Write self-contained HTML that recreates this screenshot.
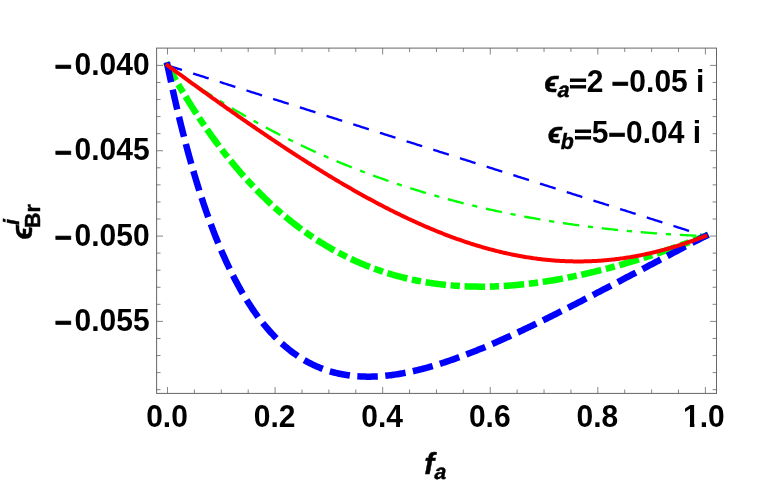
<!DOCTYPE html>
<html><head><meta charset="utf-8"><title>plot</title><style>
html,body{margin:0;padding:0;background:#fff}
body{width:763px;height:481px;overflow:hidden;font-family:"Liberation Sans",sans-serif}
svg{display:block;will-change:transform}
</style></head><body>
<svg width="763" height="481" viewBox="0 0 763 481">
<rect width="763" height="481" fill="#fff"/>
<g fill="none" stroke-linecap="square" stroke-linejoin="round">
<path d="M167.52 65.40 L168.86 65.83 L170.21 66.25 L171.55 66.68 L172.90 67.11 L174.24 67.53 L175.59 67.96 L176.93 68.39 L178.28 68.81 L179.62 69.24 L180.97 69.67 L182.31 70.09 L183.66 70.52 L185.00 70.95 L186.35 71.37 L187.69 71.80 L189.04 72.23 L190.38 72.65 L191.72 73.08 L193.07 73.51 L194.41 73.93 L195.76 74.36 L197.10 74.79 L198.45 75.21 L199.79 75.64 L201.14 76.07 L202.48 76.49 L203.83 76.92 L205.17 77.35 L206.52 77.77 L207.86 78.20 L209.21 78.63 L210.55 79.05 L211.90 79.48 L213.24 79.91 L214.58 80.33 L215.93 80.76 L217.27 81.19 L218.62 81.61 L219.96 82.04 L221.31 82.47 L222.65 82.89 L224.00 83.32 L225.34 83.75 L226.69 84.17 L228.03 84.60 L229.38 85.03 L230.72 85.45 L232.07 85.88 L233.41 86.31 L234.75 86.73 L236.10 87.16 L237.44 87.59 L238.79 88.01 L240.13 88.44 L241.48 88.87 L242.82 89.29 L244.17 89.72 L245.51 90.15 L246.86 90.57 L248.20 91.00 L249.55 91.43 L250.89 91.85 L252.24 92.28 L253.58 92.71 L254.93 93.13 L256.27 93.56 L257.61 93.99 L258.96 94.41 L260.30 94.84 L261.65 95.27 L262.99 95.69 L264.34 96.12 L265.68 96.55 L267.03 96.97 L268.37 97.40 L269.72 97.83 L271.06 98.25 L272.41 98.68 L273.75 99.11 L275.10 99.53 L276.44 99.96 L277.79 100.39 L279.13 100.81 L280.47 101.24 L281.82 101.67 L283.16 102.09 L284.51 102.52 L285.85 102.95 L287.20 103.37 L288.54 103.80 L289.89 104.23 L291.23 104.65 L292.58 105.08 L293.92 105.51 L295.27 105.93 L296.61 106.36 L297.96 106.79 L299.30 107.21 L300.65 107.64 L301.99 108.07 L303.33 108.49 L304.68 108.92 L306.02 109.35 L307.37 109.77 L308.71 110.20 L310.06 110.63 L311.40 111.05 L312.75 111.48 L314.09 111.91 L315.44 112.33 L316.78 112.76 L318.13 113.19 L319.47 113.61 L320.82 114.04 L322.16 114.47 L323.51 114.89 L324.85 115.32 L326.19 115.75 L327.54 116.17 L328.88 116.60 L330.23 117.03 L331.57 117.45 L332.92 117.88 L334.26 118.31 L335.61 118.73 L336.95 119.16 L338.30 119.59 L339.64 120.01 L340.99 120.44 L342.33 120.87 L343.68 121.29 L345.02 121.72 L346.37 122.15 L347.71 122.57 L349.05 123.00 L350.40 123.43 L351.74 123.85 L353.09 124.28 L354.43 124.71 L355.78 125.13 L357.12 125.56 L358.47 125.99 L359.81 126.41 L361.16 126.84 L362.50 127.27 L363.85 127.69 L365.19 128.12 L366.54 128.55 L367.88 128.97 L369.23 129.40 L370.57 129.83 L371.91 130.25 L373.26 130.68 L374.60 131.11 L375.95 131.53 L377.29 131.96 L378.64 132.39 L379.98 132.81 L381.33 133.24 L382.67 133.67 L384.02 134.09 L385.36 134.52 L386.71 134.95 L388.05 135.37 L389.40 135.80 L390.74 136.23 L392.08 136.65 L393.43 137.08 L394.77 137.51 L396.12 137.93 L397.46 138.36 L398.81 138.79 L400.15 139.21 L401.50 139.64 L402.84 140.07 L404.19 140.49 L405.53 140.92 L406.88 141.35 L408.22 141.77 L409.57 142.20 L410.91 142.63 L412.26 143.05 L413.60 143.48 L414.94 143.91 L416.29 144.33 L417.63 144.76 L418.98 145.19 L420.32 145.61 L421.67 146.04 L423.01 146.47 L424.36 146.89 L425.70 147.32 L427.05 147.75 L428.39 148.17 L429.74 148.60 L431.08 149.03 L432.43 149.45 L433.77 149.88 L435.12 150.31 L436.46 150.73 L437.80 151.16 L439.15 151.59 L440.49 152.02 L441.84 152.44 L443.18 152.87 L444.53 153.30 L445.87 153.72 L447.22 154.15 L448.56 154.58 L449.91 155.00 L451.25 155.43 L452.60 155.86 L453.94 156.28 L455.29 156.71 L456.63 157.14 L457.98 157.56 L459.32 157.99 L460.66 158.42 L462.01 158.84 L463.35 159.27 L464.70 159.70 L466.04 160.12 L467.39 160.55 L468.73 160.98 L470.08 161.40 L471.42 161.83 L472.77 162.26 L474.11 162.68 L475.46 163.11 L476.80 163.54 L478.15 163.96 L479.49 164.39 L480.84 164.82 L482.18 165.24 L483.52 165.67 L484.87 166.10 L486.21 166.52 L487.56 166.95 L488.90 167.38 L490.25 167.80 L491.59 168.23 L492.94 168.66 L494.28 169.08 L495.63 169.51 L496.97 169.94 L498.32 170.36 L499.66 170.79 L501.01 171.22 L502.35 171.64 L503.70 172.07 L505.04 172.50 L506.38 172.92 L507.73 173.35 L509.07 173.78 L510.42 174.20 L511.76 174.63 L513.11 175.06 L514.45 175.48 L515.80 175.91 L517.14 176.34 L518.49 176.76 L519.83 177.19 L521.18 177.62 L522.52 178.04 L523.87 178.47 L525.21 178.90 L526.55 179.32 L527.90 179.75 L529.24 180.18 L530.59 180.60 L531.93 181.03 L533.28 181.46 L534.62 181.88 L535.97 182.31 L537.31 182.74 L538.66 183.16 L540.00 183.59 L541.35 184.02 L542.69 184.44 L544.04 184.87 L545.38 185.30 L546.73 185.72 L548.07 186.15 L549.41 186.58 L550.76 187.00 L552.10 187.43 L553.45 187.86 L554.79 188.28 L556.14 188.71 L557.48 189.14 L558.83 189.56 L560.17 189.99 L561.52 190.42 L562.86 190.84 L564.21 191.27 L565.55 191.70 L566.90 192.12 L568.24 192.55 L569.59 192.98 L570.93 193.40 L572.27 193.83 L573.62 194.26 L574.96 194.68 L576.31 195.11 L577.65 195.54 L579.00 195.96 L580.34 196.39 L581.69 196.82 L583.03 197.24 L584.38 197.67 L585.72 198.10 L587.07 198.52 L588.41 198.95 L589.76 199.38 L591.10 199.80 L592.45 200.23 L593.79 200.66 L595.13 201.08 L596.48 201.51 L597.82 201.94 L599.17 202.36 L600.51 202.79 L601.86 203.22 L603.20 203.64 L604.55 204.07 L605.89 204.50 L607.24 204.92 L608.58 205.35 L609.93 205.78 L611.27 206.20 L612.62 206.63 L613.96 207.06 L615.31 207.48 L616.65 207.91 L617.99 208.34 L619.34 208.76 L620.68 209.19 L622.03 209.62 L623.37 210.04 L624.72 210.47 L626.06 210.90 L627.41 211.32 L628.75 211.75 L630.10 212.18 L631.44 212.60 L632.79 213.03 L634.13 213.46 L635.48 213.88 L636.82 214.31 L638.16 214.74 L639.51 215.16 L640.85 215.59 L642.20 216.02 L643.54 216.44 L644.89 216.87 L646.23 217.30 L647.58 217.72 L648.92 218.15 L650.27 218.58 L651.61 219.00 L652.96 219.43 L654.30 219.86 L655.65 220.28 L656.99 220.71 L658.34 221.14 L659.68 221.56 L661.02 221.99 L662.37 222.42 L663.71 222.84 L665.06 223.27 L666.40 223.70 L667.75 224.12 L669.09 224.55 L670.44 224.98 L671.78 225.40 L673.13 225.83 L674.47 226.26 L675.82 226.68 L677.16 227.11 L678.51 227.54 L679.85 227.96 L681.20 228.39 L682.54 228.82 L683.88 229.24 L685.23 229.67 L686.57 230.10 L687.92 230.52 L689.26 230.95 L690.61 231.38 L691.95 231.80 L693.30 232.23 L694.64 232.66 L695.99 233.08 L697.33 233.51 L698.68 233.94 L700.02 234.36 L701.37 234.79 L702.71 235.22 L704.06 235.64 L705.40 236.07" stroke="#0000ff" stroke-width="2.35" stroke-dasharray="14.00 14.00"/>
<path d="M167.52 65.40 L168.86 66.38 L170.21 67.37 L171.55 68.34 L172.90 69.31 L174.24 70.28 L175.59 71.25 L176.93 72.21 L178.28 73.16 L179.62 74.12 L180.97 75.06 L182.31 76.01 L183.66 76.95 L185.00 77.89 L186.35 78.82 L187.69 79.75 L189.04 80.67 L190.38 81.60 L191.72 82.51 L193.07 83.43 L194.41 84.34 L195.76 85.24 L197.10 86.14 L198.45 87.04 L199.79 87.94 L201.14 88.83 L202.48 89.71 L203.83 90.60 L205.17 91.48 L206.52 92.35 L207.86 93.23 L209.21 94.09 L210.55 94.96 L211.90 95.82 L213.24 96.68 L214.58 97.53 L215.93 98.38 L217.27 99.23 L218.62 100.07 L219.96 100.91 L221.31 101.75 L222.65 102.58 L224.00 103.41 L225.34 104.23 L226.69 105.05 L228.03 105.87 L229.38 106.68 L230.72 107.49 L232.07 108.30 L233.41 109.11 L234.75 109.91 L236.10 110.70 L237.44 111.50 L238.79 112.29 L240.13 113.07 L241.48 113.86 L242.82 114.64 L244.17 115.41 L245.51 116.18 L246.86 116.95 L248.20 117.72 L249.55 118.48 L250.89 119.24 L252.24 120.00 L253.58 120.75 L254.93 121.50 L256.27 122.25 L257.61 122.99 L258.96 123.73 L260.30 124.46 L261.65 125.20 L262.99 125.93 L264.34 126.65 L265.68 127.38 L267.03 128.10 L268.37 128.81 L269.72 129.53 L271.06 130.24 L272.41 130.94 L273.75 131.65 L275.10 132.35 L276.44 133.05 L277.79 133.74 L279.13 134.43 L280.47 135.12 L281.82 135.80 L283.16 136.49 L284.51 137.17 L285.85 137.84 L287.20 138.51 L288.54 139.18 L289.89 139.85 L291.23 140.51 L292.58 141.17 L293.92 141.83 L295.27 142.49 L296.61 143.14 L297.96 143.78 L299.30 144.43 L300.65 145.07 L301.99 145.71 L303.33 146.35 L304.68 146.98 L306.02 147.61 L307.37 148.24 L308.71 148.86 L310.06 149.48 L311.40 150.10 L312.75 150.72 L314.09 151.33 L315.44 151.94 L316.78 152.55 L318.13 153.15 L319.47 153.75 L320.82 154.35 L322.16 154.95 L323.51 155.54 L324.85 156.13 L326.19 156.72 L327.54 157.30 L328.88 157.88 L330.23 158.46 L331.57 159.04 L332.92 159.61 L334.26 160.18 L335.61 160.75 L336.95 161.31 L338.30 161.88 L339.64 162.44 L340.99 162.99 L342.33 163.55 L343.68 164.10 L345.02 164.65 L346.37 165.19 L347.71 165.74 L349.05 166.28 L350.40 166.81 L351.74 167.35 L353.09 167.88 L354.43 168.41 L355.78 168.94 L357.12 169.46 L358.47 169.99 L359.81 170.50 L361.16 171.02 L362.50 171.54 L363.85 172.05 L365.19 172.56 L366.54 173.06 L367.88 173.57 L369.23 174.07 L370.57 174.57 L371.91 175.06 L373.26 175.56 L374.60 176.05 L375.95 176.54 L377.29 177.02 L378.64 177.50 L379.98 177.99 L381.33 178.46 L382.67 178.94 L384.02 179.41 L385.36 179.89 L386.71 180.35 L388.05 180.82 L389.40 181.28 L390.74 181.75 L392.08 182.20 L393.43 182.66 L394.77 183.11 L396.12 183.57 L397.46 184.02 L398.81 184.46 L400.15 184.91 L401.50 185.35 L402.84 185.79 L404.19 186.23 L405.53 186.66 L406.88 187.09 L408.22 187.52 L409.57 187.95 L410.91 188.38 L412.26 188.80 L413.60 189.22 L414.94 189.64 L416.29 190.06 L417.63 190.47 L418.98 190.88 L420.32 191.29 L421.67 191.70 L423.01 192.11 L424.36 192.51 L425.70 192.91 L427.05 193.31 L428.39 193.70 L429.74 194.10 L431.08 194.49 L432.43 194.88 L433.77 195.26 L435.12 195.65 L436.46 196.03 L437.80 196.41 L439.15 196.79 L440.49 197.17 L441.84 197.54 L443.18 197.91 L444.53 198.28 L445.87 198.65 L447.22 199.02 L448.56 199.38 L449.91 199.74 L451.25 200.10 L452.60 200.46 L453.94 200.81 L455.29 201.16 L456.63 201.51 L457.98 201.86 L459.32 202.21 L460.66 202.55 L462.01 202.89 L463.35 203.23 L464.70 203.57 L466.04 203.91 L467.39 204.24 L468.73 204.57 L470.08 204.90 L471.42 205.23 L472.77 205.56 L474.11 205.88 L475.46 206.20 L476.80 206.52 L478.15 206.84 L479.49 207.16 L480.84 207.47 L482.18 207.78 L483.52 208.09 L484.87 208.40 L486.21 208.71 L487.56 209.01 L488.90 209.31 L490.25 209.61 L491.59 209.91 L492.94 210.20 L494.28 210.50 L495.63 210.79 L496.97 211.08 L498.32 211.37 L499.66 211.66 L501.01 211.94 L502.35 212.22 L503.70 212.50 L505.04 212.78 L506.38 213.06 L507.73 213.34 L509.07 213.61 L510.42 213.88 L511.76 214.15 L513.11 214.42 L514.45 214.68 L515.80 214.95 L517.14 215.21 L518.49 215.47 L519.83 215.73 L521.18 215.98 L522.52 216.24 L523.87 216.49 L525.21 216.74 L526.55 216.99 L527.90 217.24 L529.24 217.49 L530.59 217.73 L531.93 217.97 L533.28 218.21 L534.62 218.45 L535.97 218.69 L537.31 218.92 L538.66 219.16 L540.00 219.39 L541.35 219.62 L542.69 219.85 L544.04 220.07 L545.38 220.30 L546.73 220.52 L548.07 220.74 L549.41 220.96 L550.76 221.18 L552.10 221.40 L553.45 221.61 L554.79 221.82 L556.14 222.04 L557.48 222.24 L558.83 222.45 L560.17 222.66 L561.52 222.86 L562.86 223.07 L564.21 223.27 L565.55 223.47 L566.90 223.66 L568.24 223.86 L569.59 224.06 L570.93 224.25 L572.27 224.44 L573.62 224.63 L574.96 224.82 L576.31 225.00 L577.65 225.19 L579.00 225.37 L580.34 225.55 L581.69 225.73 L583.03 225.91 L584.38 226.09 L585.72 226.26 L587.07 226.44 L588.41 226.61 L589.76 226.78 L591.10 226.95 L592.45 227.12 L593.79 227.28 L595.13 227.45 L596.48 227.61 L597.82 227.77 L599.17 227.93 L600.51 228.09 L601.86 228.25 L603.20 228.40 L604.55 228.56 L605.89 228.71 L607.24 228.86 L608.58 229.01 L609.93 229.15 L611.27 229.30 L612.62 229.45 L613.96 229.59 L615.31 229.73 L616.65 229.87 L617.99 230.01 L619.34 230.15 L620.68 230.28 L622.03 230.42 L623.37 230.55 L624.72 230.68 L626.06 230.81 L627.41 230.94 L628.75 231.07 L630.10 231.19 L631.44 231.32 L632.79 231.44 L634.13 231.56 L635.48 231.68 L636.82 231.80 L638.16 231.92 L639.51 232.03 L640.85 232.15 L642.20 232.26 L643.54 232.37 L644.89 232.48 L646.23 232.59 L647.58 232.70 L648.92 232.80 L650.27 232.91 L651.61 233.01 L652.96 233.11 L654.30 233.22 L655.65 233.31 L656.99 233.41 L658.34 233.51 L659.68 233.60 L661.02 233.70 L662.37 233.79 L663.71 233.88 L665.06 233.97 L666.40 234.06 L667.75 234.15 L669.09 234.23 L670.44 234.32 L671.78 234.40 L673.13 234.48 L674.47 234.56 L675.82 234.64 L677.16 234.72 L678.51 234.80 L679.85 234.87 L681.20 234.95 L682.54 235.02 L683.88 235.09 L685.23 235.16 L686.57 235.23 L687.92 235.30 L689.26 235.37 L690.61 235.43 L691.95 235.50 L693.30 235.56 L694.64 235.62 L695.99 235.68 L697.33 235.74 L698.68 235.80 L700.02 235.86 L701.37 235.91 L702.71 235.97 L704.06 236.02 L705.40 236.07" stroke="#00ff00" stroke-width="2.35" stroke-dasharray="14.00 11.20 2.80 11.20"/>
<path d="M167.52 65.40 L168.86 67.84 L170.21 70.26 L171.55 72.67 L172.90 75.05 L174.24 77.42 L175.59 79.76 L176.93 82.09 L178.28 84.40 L179.62 86.69 L180.97 88.96 L182.31 91.21 L183.66 93.44 L185.00 95.66 L186.35 97.85 L187.69 100.03 L189.04 102.19 L190.38 104.34 L191.72 106.46 L193.07 108.57 L194.41 110.66 L195.76 112.73 L197.10 114.79 L198.45 116.83 L199.79 118.85 L201.14 120.85 L202.48 122.84 L203.83 124.81 L205.17 126.77 L206.52 128.70 L207.86 130.62 L209.21 132.53 L210.55 134.42 L211.90 136.29 L213.24 138.15 L214.58 139.99 L215.93 141.81 L217.27 143.62 L218.62 145.42 L219.96 147.19 L221.31 148.96 L222.65 150.70 L224.00 152.43 L225.34 154.15 L226.69 155.85 L228.03 157.54 L229.38 159.21 L230.72 160.87 L232.07 162.51 L233.41 164.14 L234.75 165.75 L236.10 167.35 L237.44 168.93 L238.79 170.50 L240.13 172.06 L241.48 173.60 L242.82 175.13 L244.17 176.64 L245.51 178.14 L246.86 179.63 L248.20 181.10 L249.55 182.56 L250.89 184.00 L252.24 185.44 L253.58 186.86 L254.93 188.26 L256.27 189.65 L257.61 191.03 L258.96 192.40 L260.30 193.75 L261.65 195.09 L262.99 196.42 L264.34 197.73 L265.68 199.04 L267.03 200.33 L268.37 201.60 L269.72 202.87 L271.06 204.12 L272.41 205.36 L273.75 206.59 L275.10 207.80 L276.44 209.01 L277.79 210.20 L279.13 211.38 L280.47 212.55 L281.82 213.71 L283.16 214.85 L284.51 215.98 L285.85 217.10 L287.20 218.22 L288.54 219.31 L289.89 220.40 L291.23 221.48 L292.58 222.54 L293.92 223.60 L295.27 224.64 L296.61 225.67 L297.96 226.69 L299.30 227.70 L300.65 228.70 L301.99 229.69 L303.33 230.67 L304.68 231.63 L306.02 232.59 L307.37 233.54 L308.71 234.47 L310.06 235.40 L311.40 236.31 L312.75 237.22 L314.09 238.11 L315.44 239.00 L316.78 239.87 L318.13 240.74 L319.47 241.59 L320.82 242.44 L322.16 243.27 L323.51 244.10 L324.85 244.91 L326.19 245.72 L327.54 246.51 L328.88 247.30 L330.23 248.08 L331.57 248.85 L332.92 249.61 L334.26 250.35 L335.61 251.09 L336.95 251.83 L338.30 252.55 L339.64 253.26 L340.99 253.96 L342.33 254.66 L343.68 255.34 L345.02 256.02 L346.37 256.69 L347.71 257.35 L349.05 258.00 L350.40 258.64 L351.74 259.27 L353.09 259.90 L354.43 260.51 L355.78 261.12 L357.12 261.72 L358.47 262.31 L359.81 262.89 L361.16 263.47 L362.50 264.03 L363.85 264.59 L365.19 265.14 L366.54 265.68 L367.88 266.22 L369.23 266.74 L370.57 267.26 L371.91 267.77 L373.26 268.27 L374.60 268.76 L375.95 269.25 L377.29 269.73 L378.64 270.20 L379.98 270.66 L381.33 271.12 L382.67 271.57 L384.02 272.01 L385.36 272.44 L386.71 272.87 L388.05 273.29 L389.40 273.70 L390.74 274.10 L392.08 274.50 L393.43 274.89 L394.77 275.27 L396.12 275.65 L397.46 276.02 L398.81 276.38 L400.15 276.73 L401.50 277.08 L402.84 277.42 L404.19 277.75 L405.53 278.08 L406.88 278.40 L408.22 278.71 L409.57 279.02 L410.91 279.32 L412.26 279.61 L413.60 279.90 L414.94 280.18 L416.29 280.45 L417.63 280.72 L418.98 280.98 L420.32 281.24 L421.67 281.49 L423.01 281.73 L424.36 281.96 L425.70 282.19 L427.05 282.42 L428.39 282.63 L429.74 282.84 L431.08 283.05 L432.43 283.25 L433.77 283.44 L435.12 283.63 L436.46 283.81 L437.80 283.98 L439.15 284.15 L440.49 284.31 L441.84 284.47 L443.18 284.62 L444.53 284.77 L445.87 284.91 L447.22 285.04 L448.56 285.17 L449.91 285.29 L451.25 285.41 L452.60 285.52 L453.94 285.63 L455.29 285.73 L456.63 285.82 L457.98 285.91 L459.32 286.00 L460.66 286.08 L462.01 286.15 L463.35 286.22 L464.70 286.28 L466.04 286.34 L467.39 286.39 L468.73 286.44 L470.08 286.48 L471.42 286.52 L472.77 286.55 L474.11 286.58 L475.46 286.60 L476.80 286.62 L478.15 286.63 L479.49 286.64 L480.84 286.64 L482.18 286.64 L483.52 286.63 L484.87 286.62 L486.21 286.60 L487.56 286.58 L488.90 286.55 L490.25 286.52 L491.59 286.49 L492.94 286.45 L494.28 286.40 L495.63 286.35 L496.97 286.30 L498.32 286.24 L499.66 286.17 L501.01 286.10 L502.35 286.03 L503.70 285.96 L505.04 285.87 L506.38 285.79 L507.73 285.70 L509.07 285.60 L510.42 285.50 L511.76 285.40 L513.11 285.29 L514.45 285.18 L515.80 285.06 L517.14 284.94 L518.49 284.82 L519.83 284.69 L521.18 284.56 L522.52 284.42 L523.87 284.28 L525.21 284.14 L526.55 283.99 L527.90 283.83 L529.24 283.68 L530.59 283.52 L531.93 283.35 L533.28 283.18 L534.62 283.01 L535.97 282.83 L537.31 282.65 L538.66 282.47 L540.00 282.28 L541.35 282.09 L542.69 281.89 L544.04 281.69 L545.38 281.49 L546.73 281.28 L548.07 281.07 L549.41 280.86 L550.76 280.64 L552.10 280.42 L553.45 280.19 L554.79 279.96 L556.14 279.73 L557.48 279.50 L558.83 279.26 L560.17 279.01 L561.52 278.77 L562.86 278.52 L564.21 278.26 L565.55 278.01 L566.90 277.75 L568.24 277.49 L569.59 277.22 L570.93 276.95 L572.27 276.68 L573.62 276.40 L574.96 276.12 L576.31 275.84 L577.65 275.55 L579.00 275.26 L580.34 274.97 L581.69 274.67 L583.03 274.37 L584.38 274.07 L585.72 273.77 L587.07 273.46 L588.41 273.15 L589.76 272.83 L591.10 272.51 L592.45 272.19 L593.79 271.87 L595.13 271.54 L596.48 271.21 L597.82 270.88 L599.17 270.54 L600.51 270.21 L601.86 269.87 L603.20 269.52 L604.55 269.17 L605.89 268.82 L607.24 268.47 L608.58 268.12 L609.93 267.76 L611.27 267.40 L612.62 267.03 L613.96 266.66 L615.31 266.30 L616.65 265.92 L617.99 265.55 L619.34 265.17 L620.68 264.79 L622.03 264.41 L623.37 264.02 L624.72 263.63 L626.06 263.24 L627.41 262.85 L628.75 262.45 L630.10 262.05 L631.44 261.65 L632.79 261.25 L634.13 260.84 L635.48 260.43 L636.82 260.02 L638.16 259.61 L639.51 259.19 L640.85 258.77 L642.20 258.35 L643.54 257.93 L644.89 257.50 L646.23 257.08 L647.58 256.65 L648.92 256.21 L650.27 255.78 L651.61 255.34 L652.96 254.90 L654.30 254.46 L655.65 254.01 L656.99 253.57 L658.34 253.12 L659.68 252.66 L661.02 252.21 L662.37 251.76 L663.71 251.30 L665.06 250.84 L666.40 250.37 L667.75 249.91 L669.09 249.44 L670.44 248.97 L671.78 248.50 L673.13 248.03 L674.47 247.55 L675.82 247.08 L677.16 246.60 L678.51 246.12 L679.85 245.63 L681.20 245.15 L682.54 244.66 L683.88 244.17 L685.23 243.68 L686.57 243.18 L687.92 242.69 L689.26 242.19 L690.61 241.69 L691.95 241.19 L693.30 240.69 L694.64 240.18 L695.99 239.67 L697.33 239.16 L698.68 238.65 L700.02 238.14 L701.37 237.63 L702.71 237.11 L704.06 236.59 L705.40 236.07" stroke="#00ff00" stroke-width="6.50" stroke-dasharray="14.00 11.20 2.80 11.20"/>
<path d="M167.52 65.40 L168.86 71.84 L170.21 78.18 L171.55 84.39 L172.90 90.50 L174.24 96.50 L175.59 102.39 L176.93 108.18 L178.28 113.86 L179.62 119.44 L180.97 124.93 L182.31 130.31 L183.66 135.60 L185.00 140.79 L186.35 145.89 L187.69 150.90 L189.04 155.82 L190.38 160.65 L191.72 165.40 L193.07 170.06 L194.41 174.63 L195.76 179.13 L197.10 183.54 L198.45 187.87 L199.79 192.12 L201.14 196.30 L202.48 200.40 L203.83 204.43 L205.17 208.38 L206.52 212.26 L207.86 216.07 L209.21 219.81 L210.55 223.48 L211.90 227.09 L213.24 230.62 L214.58 234.09 L215.93 237.50 L217.27 240.85 L218.62 244.13 L219.96 247.35 L221.31 250.51 L222.65 253.61 L224.00 256.66 L225.34 259.64 L226.69 262.57 L228.03 265.44 L229.38 268.26 L230.72 271.03 L232.07 273.74 L233.41 276.40 L234.75 279.01 L236.10 281.57 L237.44 284.08 L238.79 286.54 L240.13 288.95 L241.48 291.31 L242.82 293.63 L244.17 295.90 L245.51 298.13 L246.86 300.31 L248.20 302.45 L249.55 304.54 L250.89 306.60 L252.24 308.61 L253.58 310.58 L254.93 312.50 L256.27 314.39 L257.61 316.24 L258.96 318.05 L260.30 319.83 L261.65 321.56 L262.99 323.26 L264.34 324.92 L265.68 326.55 L267.03 328.14 L268.37 329.70 L269.72 331.22 L271.06 332.71 L272.41 334.16 L273.75 335.59 L275.10 336.98 L276.44 338.33 L277.79 339.66 L279.13 340.96 L280.47 342.22 L281.82 343.46 L283.16 344.67 L284.51 345.84 L285.85 346.99 L287.20 348.11 L288.54 349.21 L289.89 350.27 L291.23 351.31 L292.58 352.33 L293.92 353.31 L295.27 354.27 L296.61 355.21 L297.96 356.12 L299.30 357.01 L300.65 357.87 L301.99 358.71 L303.33 359.52 L304.68 360.31 L306.02 361.08 L307.37 361.83 L308.71 362.55 L310.06 363.25 L311.40 363.93 L312.75 364.59 L314.09 365.23 L315.44 365.85 L316.78 366.44 L318.13 367.02 L319.47 367.58 L320.82 368.12 L322.16 368.64 L323.51 369.14 L324.85 369.62 L326.19 370.08 L327.54 370.53 L328.88 370.95 L330.23 371.36 L331.57 371.76 L332.92 372.13 L334.26 372.49 L335.61 372.83 L336.95 373.16 L338.30 373.47 L339.64 373.76 L340.99 374.04 L342.33 374.30 L343.68 374.55 L345.02 374.78 L346.37 375.00 L347.71 375.21 L349.05 375.39 L350.40 375.57 L351.74 375.73 L353.09 375.88 L354.43 376.01 L355.78 376.13 L357.12 376.24 L358.47 376.33 L359.81 376.42 L361.16 376.49 L362.50 376.54 L363.85 376.59 L365.19 376.62 L366.54 376.64 L367.88 376.65 L369.23 376.65 L370.57 376.63 L371.91 376.61 L373.26 376.57 L374.60 376.52 L375.95 376.47 L377.29 376.40 L378.64 376.32 L379.98 376.23 L381.33 376.13 L382.67 376.02 L384.02 375.90 L385.36 375.77 L386.71 375.63 L388.05 375.49 L389.40 375.33 L390.74 375.16 L392.08 374.99 L393.43 374.80 L394.77 374.61 L396.12 374.41 L397.46 374.20 L398.81 373.98 L400.15 373.75 L401.50 373.52 L402.84 373.28 L404.19 373.03 L405.53 372.77 L406.88 372.50 L408.22 372.23 L409.57 371.95 L410.91 371.66 L412.26 371.36 L413.60 371.06 L414.94 370.75 L416.29 370.43 L417.63 370.11 L418.98 369.78 L420.32 369.44 L421.67 369.09 L423.01 368.74 L424.36 368.39 L425.70 368.02 L427.05 367.66 L428.39 367.28 L429.74 366.90 L431.08 366.51 L432.43 366.12 L433.77 365.72 L435.12 365.32 L436.46 364.91 L437.80 364.49 L439.15 364.07 L440.49 363.64 L441.84 363.21 L443.18 362.78 L444.53 362.33 L445.87 361.89 L447.22 361.44 L448.56 360.98 L449.91 360.52 L451.25 360.05 L452.60 359.58 L453.94 359.11 L455.29 358.63 L456.63 358.14 L457.98 357.66 L459.32 357.16 L460.66 356.67 L462.01 356.16 L463.35 355.66 L464.70 355.15 L466.04 354.64 L467.39 354.12 L468.73 353.60 L470.08 353.07 L471.42 352.54 L472.77 352.01 L474.11 351.48 L475.46 350.94 L476.80 350.39 L478.15 349.85 L479.49 349.30 L480.84 348.74 L482.18 348.19 L483.52 347.63 L484.87 347.06 L486.21 346.50 L487.56 345.93 L488.90 345.36 L490.25 344.78 L491.59 344.20 L492.94 343.62 L494.28 343.04 L495.63 342.45 L496.97 341.86 L498.32 341.27 L499.66 340.68 L501.01 340.08 L502.35 339.48 L503.70 338.88 L505.04 338.27 L506.38 337.66 L507.73 337.05 L509.07 336.44 L510.42 335.83 L511.76 335.21 L513.11 334.59 L514.45 333.97 L515.80 333.35 L517.14 332.72 L518.49 332.09 L519.83 331.46 L521.18 330.83 L522.52 330.20 L523.87 329.56 L525.21 328.92 L526.55 328.28 L527.90 327.64 L529.24 327.00 L530.59 326.35 L531.93 325.71 L533.28 325.06 L534.62 324.41 L535.97 323.76 L537.31 323.11 L538.66 322.45 L540.00 321.79 L541.35 321.14 L542.69 320.48 L544.04 319.82 L545.38 319.15 L546.73 318.49 L548.07 317.82 L549.41 317.16 L550.76 316.49 L552.10 315.82 L553.45 315.15 L554.79 314.48 L556.14 313.81 L557.48 313.13 L558.83 312.46 L560.17 311.78 L561.52 311.10 L562.86 310.43 L564.21 309.75 L565.55 309.07 L566.90 308.38 L568.24 307.70 L569.59 307.02 L570.93 306.33 L572.27 305.65 L573.62 304.96 L574.96 304.28 L576.31 303.59 L577.65 302.90 L579.00 302.21 L580.34 301.52 L581.69 300.83 L583.03 300.14 L584.38 299.44 L585.72 298.75 L587.07 298.06 L588.41 297.36 L589.76 296.67 L591.10 295.97 L592.45 295.27 L593.79 294.58 L595.13 293.88 L596.48 293.18 L597.82 292.48 L599.17 291.78 L600.51 291.08 L601.86 290.38 L603.20 289.68 L604.55 288.98 L605.89 288.28 L607.24 287.58 L608.58 286.87 L609.93 286.17 L611.27 285.47 L612.62 284.76 L613.96 284.06 L615.31 283.36 L616.65 282.65 L617.99 281.95 L619.34 281.24 L620.68 280.53 L622.03 279.83 L623.37 279.12 L624.72 278.42 L626.06 277.71 L627.41 277.00 L628.75 276.30 L630.10 275.59 L631.44 274.88 L632.79 274.18 L634.13 273.47 L635.48 272.76 L636.82 272.05 L638.16 271.35 L639.51 270.64 L640.85 269.93 L642.20 269.22 L643.54 268.51 L644.89 267.81 L646.23 267.10 L647.58 266.39 L648.92 265.68 L650.27 264.97 L651.61 264.27 L652.96 263.56 L654.30 262.85 L655.65 262.14 L656.99 261.44 L658.34 260.73 L659.68 260.02 L661.02 259.31 L662.37 258.60 L663.71 257.90 L665.06 257.19 L666.40 256.48 L667.75 255.78 L669.09 255.07 L670.44 254.36 L671.78 253.66 L673.13 252.95 L674.47 252.24 L675.82 251.54 L677.16 250.83 L678.51 250.13 L679.85 249.42 L681.20 248.72 L682.54 248.01 L683.88 247.31 L685.23 246.60 L686.57 245.90 L687.92 245.19 L689.26 244.49 L690.61 243.79 L691.95 243.08 L693.30 242.38 L694.64 241.68 L695.99 240.98 L697.33 240.27 L698.68 239.57 L700.02 238.87 L701.37 238.17 L702.71 237.47 L704.06 236.77 L705.40 236.07" stroke="#0000ff" stroke-width="6.50" stroke-dasharray="14.00 14.00"/>
<path d="M167.52 65.40 L168.86 66.39 L170.21 67.37 L171.55 68.36 L172.90 69.34 L174.24 70.33 L175.59 71.31 L176.93 72.29 L178.28 73.27 L179.62 74.25 L180.97 75.23 L182.31 76.21 L183.66 77.19 L185.00 78.17 L186.35 79.15 L187.69 80.12 L189.04 81.10 L190.38 82.07 L191.72 83.05 L193.07 84.02 L194.41 84.99 L195.76 85.97 L197.10 86.94 L198.45 87.91 L199.79 88.88 L201.14 89.84 L202.48 90.81 L203.83 91.78 L205.17 92.74 L206.52 93.71 L207.86 94.67 L209.21 95.63 L210.55 96.60 L211.90 97.56 L213.24 98.52 L214.58 99.48 L215.93 100.43 L217.27 101.39 L218.62 102.34 L219.96 103.30 L221.31 104.25 L222.65 105.20 L224.00 106.16 L225.34 107.11 L226.69 108.06 L228.03 109.00 L229.38 109.95 L230.72 110.89 L232.07 111.84 L233.41 112.78 L234.75 113.72 L236.10 114.66 L237.44 115.60 L238.79 116.54 L240.13 117.48 L241.48 118.41 L242.82 119.35 L244.17 120.28 L245.51 121.21 L246.86 122.14 L248.20 123.07 L249.55 124.00 L250.89 124.93 L252.24 125.85 L253.58 126.77 L254.93 127.69 L256.27 128.62 L257.61 129.53 L258.96 130.45 L260.30 131.37 L261.65 132.28 L262.99 133.19 L264.34 134.11 L265.68 135.01 L267.03 135.92 L268.37 136.83 L269.72 137.73 L271.06 138.64 L272.41 139.54 L273.75 140.44 L275.10 141.34 L276.44 142.23 L277.79 143.13 L279.13 144.02 L280.47 144.91 L281.82 145.80 L283.16 146.69 L284.51 147.57 L285.85 148.46 L287.20 149.34 L288.54 150.22 L289.89 151.10 L291.23 151.98 L292.58 152.85 L293.92 153.72 L295.27 154.59 L296.61 155.46 L297.96 156.33 L299.30 157.19 L300.65 158.06 L301.99 158.92 L303.33 159.77 L304.68 160.63 L306.02 161.48 L307.37 162.34 L308.71 163.19 L310.06 164.03 L311.40 164.88 L312.75 165.72 L314.09 166.56 L315.44 167.40 L316.78 168.24 L318.13 169.07 L319.47 169.91 L320.82 170.74 L322.16 171.56 L323.51 172.39 L324.85 173.21 L326.19 174.03 L327.54 174.85 L328.88 175.67 L330.23 176.48 L331.57 177.29 L332.92 178.10 L334.26 178.90 L335.61 179.70 L336.95 180.50 L338.30 181.30 L339.64 182.10 L340.99 182.89 L342.33 183.68 L343.68 184.47 L345.02 185.25 L346.37 186.03 L347.71 186.81 L349.05 187.59 L350.40 188.36 L351.74 189.13 L353.09 189.90 L354.43 190.66 L355.78 191.43 L357.12 192.19 L358.47 192.94 L359.81 193.70 L361.16 194.45 L362.50 195.19 L363.85 195.94 L365.19 196.68 L366.54 197.42 L367.88 198.15 L369.23 198.88 L370.57 199.61 L371.91 200.34 L373.26 201.06 L374.60 201.78 L375.95 202.50 L377.29 203.21 L378.64 203.92 L379.98 204.63 L381.33 205.33 L382.67 206.03 L384.02 206.73 L385.36 207.42 L386.71 208.11 L388.05 208.80 L389.40 209.48 L390.74 210.16 L392.08 210.84 L393.43 211.51 L394.77 212.18 L396.12 212.85 L397.46 213.51 L398.81 214.17 L400.15 214.82 L401.50 215.47 L402.84 216.12 L404.19 216.77 L405.53 217.41 L406.88 218.04 L408.22 218.68 L409.57 219.30 L410.91 219.93 L412.26 220.55 L413.60 221.17 L414.94 221.78 L416.29 222.39 L417.63 223.00 L418.98 223.60 L420.32 224.20 L421.67 224.79 L423.01 225.38 L424.36 225.97 L425.70 226.55 L427.05 227.13 L428.39 227.71 L429.74 228.28 L431.08 228.84 L432.43 229.40 L433.77 229.96 L435.12 230.51 L436.46 231.06 L437.80 231.61 L439.15 232.15 L440.49 232.68 L441.84 233.22 L443.18 233.74 L444.53 234.27 L445.87 234.79 L447.22 235.30 L448.56 235.81 L449.91 236.32 L451.25 236.82 L452.60 237.32 L453.94 237.81 L455.29 238.30 L456.63 238.78 L457.98 239.26 L459.32 239.73 L460.66 240.20 L462.01 240.67 L463.35 241.13 L464.70 241.58 L466.04 242.03 L467.39 242.48 L468.73 242.92 L470.08 243.36 L471.42 243.79 L472.77 244.22 L474.11 244.64 L475.46 245.06 L476.80 245.47 L478.15 245.88 L479.49 246.28 L480.84 246.68 L482.18 247.07 L483.52 247.46 L484.87 247.85 L486.21 248.22 L487.56 248.60 L488.90 248.97 L490.25 249.33 L491.59 249.69 L492.94 250.04 L494.28 250.39 L495.63 250.73 L496.97 251.07 L498.32 251.40 L499.66 251.73 L501.01 252.05 L502.35 252.37 L503.70 252.68 L505.04 252.99 L506.38 253.29 L507.73 253.59 L509.07 253.88 L510.42 254.16 L511.76 254.45 L513.11 254.72 L514.45 254.99 L515.80 255.25 L517.14 255.51 L518.49 255.77 L519.83 256.02 L521.18 256.26 L522.52 256.50 L523.87 256.73 L525.21 256.96 L526.55 257.18 L527.90 257.39 L529.24 257.60 L530.59 257.81 L531.93 258.01 L533.28 258.20 L534.62 258.39 L535.97 258.57 L537.31 258.75 L538.66 258.92 L540.00 259.09 L541.35 259.25 L542.69 259.40 L544.04 259.55 L545.38 259.69 L546.73 259.83 L548.07 259.96 L549.41 260.09 L550.76 260.21 L552.10 260.33 L553.45 260.43 L554.79 260.54 L556.14 260.64 L557.48 260.73 L558.83 260.82 L560.17 260.90 L561.52 260.97 L562.86 261.04 L564.21 261.11 L565.55 261.16 L566.90 261.22 L568.24 261.26 L569.59 261.30 L570.93 261.34 L572.27 261.37 L573.62 261.39 L574.96 261.41 L576.31 261.42 L577.65 261.43 L579.00 261.43 L580.34 261.42 L581.69 261.41 L583.03 261.39 L584.38 261.37 L585.72 261.34 L587.07 261.31 L588.41 261.27 L589.76 261.22 L591.10 261.17 L592.45 261.11 L593.79 261.05 L595.13 260.98 L596.48 260.90 L597.82 260.82 L599.17 260.73 L600.51 260.64 L601.86 260.54 L603.20 260.44 L604.55 260.33 L605.89 260.21 L607.24 260.09 L608.58 259.96 L609.93 259.83 L611.27 259.69 L612.62 259.54 L613.96 259.39 L615.31 259.24 L616.65 259.07 L617.99 258.91 L619.34 258.73 L620.68 258.55 L622.03 258.37 L623.37 258.18 L624.72 257.98 L626.06 257.78 L627.41 257.57 L628.75 257.35 L630.10 257.13 L631.44 256.91 L632.79 256.68 L634.13 256.44 L635.48 256.20 L636.82 255.95 L638.16 255.69 L639.51 255.44 L640.85 255.17 L642.20 254.90 L643.54 254.62 L644.89 254.34 L646.23 254.05 L647.58 253.76 L648.92 253.46 L650.27 253.16 L651.61 252.85 L652.96 252.53 L654.30 252.21 L655.65 251.88 L656.99 251.55 L658.34 251.21 L659.68 250.87 L661.02 250.52 L662.37 250.17 L663.71 249.81 L665.06 249.44 L666.40 249.07 L667.75 248.70 L669.09 248.32 L670.44 247.93 L671.78 247.54 L673.13 247.14 L674.47 246.74 L675.82 246.33 L677.16 245.92 L678.51 245.50 L679.85 245.08 L681.20 244.65 L682.54 244.22 L683.88 243.78 L685.23 243.33 L686.57 242.89 L687.92 242.43 L689.26 241.97 L690.61 241.51 L691.95 241.04 L693.30 240.56 L694.64 240.08 L695.99 239.60 L697.33 239.11 L698.68 238.62 L700.02 238.12 L701.37 237.61 L702.71 237.10 L704.06 236.59 L705.40 236.07" stroke="#ff0000" stroke-width="4.00"/>
</g>
<g fill="none" stroke="#666" stroke-width="1">
<rect x="156.60" y="48.10" width="559.90" height="345.30"/>
<path d="M167.52 393.40v-6.40M167.52 48.10v6.40M194.41 393.40v-3.90M194.41 48.10v3.90M221.31 393.40v-3.90M221.31 48.10v3.90M248.20 393.40v-3.90M248.20 48.10v3.90M275.10 393.40v-6.40M275.10 48.10v6.40M301.99 393.40v-3.90M301.99 48.10v3.90M328.88 393.40v-3.90M328.88 48.10v3.90M355.78 393.40v-3.90M355.78 48.10v3.90M382.67 393.40v-6.40M382.67 48.10v6.40M409.57 393.40v-3.90M409.57 48.10v3.90M436.46 393.40v-3.90M436.46 48.10v3.90M463.35 393.40v-3.90M463.35 48.10v3.90M490.25 393.40v-6.40M490.25 48.10v6.40M517.14 393.40v-3.90M517.14 48.10v3.90M544.04 393.40v-3.90M544.04 48.10v3.90M570.93 393.40v-3.90M570.93 48.10v3.90M597.82 393.40v-6.40M597.82 48.10v6.40M624.72 393.40v-3.90M624.72 48.10v3.90M651.61 393.40v-3.90M651.61 48.10v3.90M678.51 393.40v-3.90M678.51 48.10v3.90M705.40 393.40v-6.40M705.40 48.10v6.40M156.60 65.40h6.40M716.50 65.40h-6.40M156.60 82.47h3.90M716.50 82.47h-3.90M156.60 99.53h3.90M716.50 99.53h-3.90M156.60 116.60h3.90M716.50 116.60h-3.90M156.60 133.67h3.90M716.50 133.67h-3.90M156.60 150.74h6.40M716.50 150.74h-6.40M156.60 167.80h3.90M716.50 167.80h-3.90M156.60 184.87h3.90M716.50 184.87h-3.90M156.60 201.94h3.90M716.50 201.94h-3.90M156.60 219.00h3.90M716.50 219.00h-3.90M156.60 236.07h6.40M716.50 236.07h-6.40M156.60 253.14h3.90M716.50 253.14h-3.90M156.60 270.20h3.90M716.50 270.20h-3.90M156.60 287.27h3.90M716.50 287.27h-3.90M156.60 304.34h3.90M716.50 304.34h-3.90M156.60 321.40h6.40M716.50 321.40h-6.40M156.60 338.47h3.90M716.50 338.47h-3.90M156.60 355.54h3.90M716.50 355.54h-3.90M156.60 372.61h3.90M716.50 372.61h-3.90M156.60 389.67h3.90M716.50 389.67h-3.90" stroke-width="0.8" stroke="#666"/>
</g>
<g font-family="'Liberation Sans', sans-serif" font-weight="bold" fill="#000" font-size="30">
<text x="57.02" y="75.00" transform="matrix(1 0 0 1.022 0 -1.650)" xml:space="preserve"><tspan dy="2.3" dx="-2.3" stroke="#000" stroke-width="0.6">−</tspan><tspan dy="-2.3" dx="2.3">0</tspan>.040</text>
<text x="57.02" y="160.34" transform="matrix(1 0 0 1.022 0 -3.527)" xml:space="preserve"><tspan dy="2.3" dx="-2.3" stroke="#000" stroke-width="0.6">−</tspan><tspan dy="-2.3" dx="2.3">0</tspan>.045</text>
<text x="57.02" y="245.67" transform="matrix(1 0 0 1.022 0 -5.405)" xml:space="preserve"><tspan dy="2.3" dx="-2.3" stroke="#000" stroke-width="0.6">−</tspan><tspan dy="-2.3" dx="2.3">0</tspan>.050</text>
<text x="57.02" y="331.00" transform="matrix(1 0 0 1.022 0 -7.282)" xml:space="preserve"><tspan dy="2.3" dx="-2.3" stroke="#000" stroke-width="0.6">−</tspan><tspan dy="-2.3" dx="2.3">0</tspan>.055</text>
<text x="167.02" y="427.40" text-anchor="middle" transform="matrix(1 0 0 1.022 0 -9.403)" xml:space="preserve">0.0</text>
<text x="274.60" y="427.40" text-anchor="middle" transform="matrix(1 0 0 1.022 0 -9.403)" xml:space="preserve">0.2</text>
<text x="382.17" y="427.40" text-anchor="middle" transform="matrix(1 0 0 1.022 0 -9.403)" xml:space="preserve">0.4</text>
<text x="489.75" y="427.40" text-anchor="middle" transform="matrix(1 0 0 1.022 0 -9.403)" xml:space="preserve">0.6</text>
<text x="597.32" y="427.40" text-anchor="middle" transform="matrix(1 0 0 1.022 0 -9.403)" xml:space="preserve">0.8</text>
<clipPath id="c1"><rect x="682.10" y="401.40" width="18" height="20.60"/><rect x="689.90" y="421.90" width="4.50" height="6"/></clipPath>
<text x="683.10" y="427.40" transform="matrix(1 0 0 1.022 0 -9.403)" xml:space="preserve" clip-path="url(#c1)">1</text>
<text x="699.78" y="427.40" transform="matrix(1 0 0 1.022 0 -9.403)" xml:space="preserve">.0</text>
<text x="424.3" y="473.7" font-style="italic" stroke="#000" stroke-width="0.45" stroke-linejoin="round">f</text>
<text transform="translate(433.30 479.10) skewX(-12.0)" font-size="21.3" stroke="#000" stroke-width="0.45" stroke-linejoin="round">a</text>
<text x="544.3" y="91.7" font-style="italic" stroke="#000" stroke-width="0.45" stroke-linejoin="round">ϵ</text>
<text transform="translate(556.60 97.10) skewX(-12.0)" font-size="21.3" stroke="#000" stroke-width="0.45" stroke-linejoin="round">a</text>
<text x="569.30" y="94.33" transform="matrix(1 0 0 0.780 0 18.568)" stroke="#000" stroke-width="1.1">=</text>
<text x="586.82" y="91.70" transform="matrix(1 0 0 1.022 0 -2.017)" xml:space="preserve">2 <tspan dy="2.3" dx="-0.0" stroke="#000" stroke-width="0.6">−</tspan><tspan dy="-2.3" dx="0.0">0</tspan>.05 i</text>
<text x="547.8" y="142.8" font-style="italic" stroke="#000" stroke-width="0.45" stroke-linejoin="round">ϵ</text>
<text x="560.8" y="148.5" font-style="italic" font-size="21.3" stroke="#000" stroke-width="0.45" stroke-linejoin="round">b</text>
<text x="574.30" y="145.43" transform="matrix(1 0 0 0.780 0 29.810)" stroke="#000" stroke-width="1.1">=</text>
<text x="591.82" y="142.80" transform="matrix(1 0 0 1.022 0 -3.142)" xml:space="preserve">5<tspan dy="2.3" dx="-0.0" stroke="#000" stroke-width="0.6">−</tspan><tspan dy="-2.3" dx="0.0">0</tspan>.04 i</text>
<g transform="rotate(-90)" stroke="#000" stroke-width="0.45" stroke-linejoin="round">
<text x="-239.6" y="31.9" font-style="italic">ϵ</text>
<text x="-227.9" y="40.2" font-size="21.3">Br</text>
<text x="-225.1" y="18.6" font-style="italic" font-size="21.3">i</text>
</g>
</g>
</svg>
</body></html>
